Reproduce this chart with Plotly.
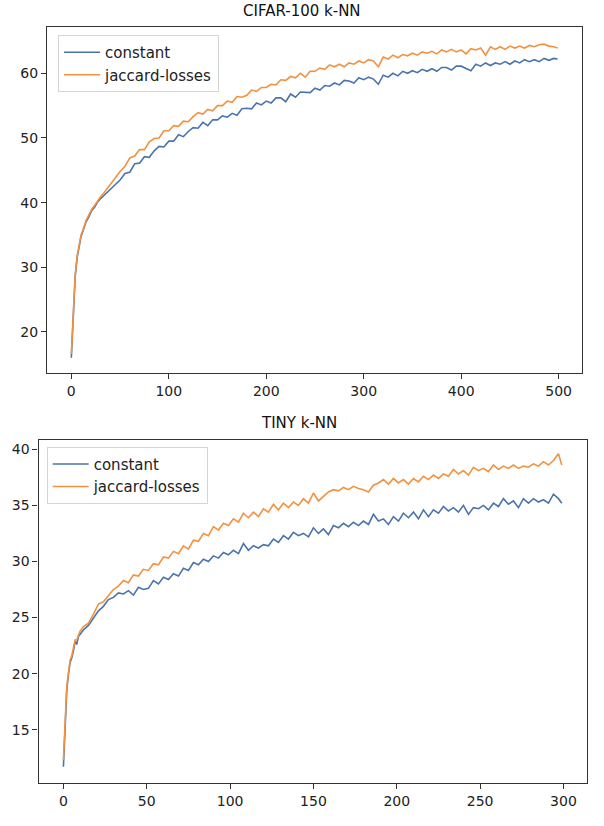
import plotly.graph_objects as go

# ---------------- data ----------------
EPOCHS_TOP = [0, 1, 2, 3, 4, 6, 8, 10, 12, 15, 18, 21, 24, 27, 30, 34, 38, 42, 46, 50] \
    + list(range(55, 500, 5)) + [499]

CONSTANT_TOP = [
    16.0, 19.8, 23.0, 26.1, 28.6, 31.5, 33.2, 34.8, 35.6, 37.0,
    37.8, 38.8, 39.3, 40.1, 40.6, 41.2, 41.8, 42.4, 42.9, 43.5,
    44.5, 44.7, 46.0, 46.1, 47.1, 47.0, 48.0, 48.7, 48.6, 49.5,
    49.5, 50.5, 50.2, 51.0, 51.6, 51.5, 52.4, 51.9, 52.8, 52.8,
    53.4, 53.2, 53.8, 53.5, 54.5, 54.6, 54.5, 55.4, 55.1, 55.7,
    55.4, 56.2, 56.2, 55.6, 56.8, 56.3, 57.1, 57.0, 57.0, 57.7,
    57.4, 58.1, 58.0, 58.5, 58.2, 58.9, 58.8, 58.5, 59.3, 59.0,
    59.4, 59.1, 58.3, 59.7, 59.4, 60.0, 59.6, 60.3, 60.0, 60.4,
    60.1, 60.6, 60.3, 60.7, 60.3, 60.9, 60.9, 60.5, 61.1, 61.1,
    60.8, 60.4, 61.4, 61.1, 61.6, 61.2, 61.6, 61.4, 61.8, 61.4,
    61.9, 61.6, 62.1, 61.8, 62.1, 61.8, 62.3, 62.0, 62.3,
    62.2,
]

JACCARD_TOP = [
    16.6, 20.1, 23.3, 26.4, 28.9, 31.8, 33.5, 35.0, 35.8, 37.2,
    38.1, 39.0, 39.6, 40.3, 40.9, 41.6, 42.4, 43.2, 44.0, 44.8,
    45.6, 46.9, 47.2, 48.2, 48.2, 49.4, 49.9, 50.0, 51.1, 51.1,
    51.9, 51.8, 52.6, 52.5, 53.3, 53.9, 53.7, 54.4, 54.2, 55.0,
    55.0, 55.7, 55.5, 56.4, 56.3, 56.6, 57.4, 57.2, 57.8, 57.8,
    58.3, 58.2, 59.0, 58.9, 59.5, 59.3, 60.0, 59.4, 60.3, 60.3,
    60.8, 60.6, 61.3, 61.0, 61.4, 61.0, 61.6, 61.4, 61.9, 61.6,
    62.1, 61.9, 61.0, 62.5, 62.2, 62.8, 62.4, 62.9, 62.7, 63.1,
    62.8, 63.3, 63.1, 63.4, 63.0, 63.6, 63.3, 63.7, 63.3, 63.6,
    63.0, 63.8, 63.6, 63.9, 62.8, 64.1, 63.7, 64.1, 63.7, 64.2,
    63.9, 64.2, 63.9, 64.3, 64.1, 64.4, 64.5, 64.2, 64.1,
    63.9,
]

EPOCHS_BOTTOM = list(range(0, 11)) + list(range(12, 298, 3)) + [299]

CONSTANT_BOTTOM = [
    11.7, 16.0, 18.5, 19.9, 21.0, 21.4, 22.0, 22.9, 22.6, 23.3, 23.5,
    23.9, 24.3, 24.9, 25.6, 26.0, 26.6, 26.8, 27.2, 27.1, 27.4,
    27.0, 27.7, 27.5, 27.6, 28.3, 28.0, 28.6, 28.4, 28.9, 28.7,
    29.4, 29.2, 29.9, 29.7, 30.2, 30.0, 30.5, 30.3, 30.8, 30.6,
    31.0, 30.7, 31.6, 31.0, 31.4, 31.2, 31.5, 31.4, 32.0, 31.7,
    32.3, 32.0, 32.6, 32.3, 32.5, 32.2, 33.0, 32.5, 32.9, 32.4,
    33.2, 33.0, 33.4, 33.1, 33.5, 33.2, 33.6, 33.3, 34.2, 33.6,
    33.8, 33.3, 34.0, 33.6, 34.3, 33.9, 34.4, 33.8, 34.6, 34.0,
    34.6, 34.3, 34.9, 34.5, 34.8, 34.4, 35.0, 34.2, 34.8, 34.7,
    35.0, 34.6, 35.2, 34.9, 35.6, 35.1, 35.4, 34.8, 35.6, 35.2,
    35.6, 35.3, 35.5, 35.2, 36.0, 35.6,
    35.2,
]

JACCARD_BOTTOM = [
    12.3, 16.4, 18.8, 20.1, 21.2, 21.6, 22.2, 23.0, 23.0, 23.5, 23.8,
    24.2, 24.5, 25.3, 26.2, 26.4, 27.0, 27.5, 27.8, 28.3, 28.1,
    28.8, 28.7, 29.3, 29.2, 29.8, 29.7, 30.4, 30.3, 30.9, 30.7,
    31.4, 31.1, 31.9, 31.8, 32.5, 32.3, 33.1, 32.8, 33.4, 33.2,
    33.8, 33.5, 34.3, 33.9, 34.4, 34.0, 34.7, 34.4, 35.1, 34.6,
    35.2, 34.8, 35.3, 35.0, 35.6, 35.2, 36.1, 35.4, 35.8, 36.2,
    36.4, 36.3, 36.6, 36.4, 36.7, 36.5, 36.4, 36.2, 36.8, 37.0,
    37.3, 36.9, 37.4, 37.0, 37.3, 36.9, 37.4, 37.1, 37.6, 37.3,
    37.7, 37.4, 37.8, 37.6, 38.2, 37.8, 38.1, 37.7, 38.4, 38.1,
    38.3, 38.0, 38.6, 38.2, 38.5, 38.3, 38.6, 38.3, 38.5, 38.4,
    38.7, 38.5, 38.9, 38.6, 39.0, 39.6,
    38.6,
]

TITLES = ["CIFAR-100 k-NN", "TINY k-NN"]
SERIES_NAMES = ["constant", "jaccard-losses"]
X_TICKS_TOP = [0, 100, 200, 300, 400, 500]
Y_TICKS_TOP = [20, 30, 40, 50, 60]
X_TICKS_BOTTOM = [0, 50, 100, 150, 200, 250, 300]
Y_TICKS_BOTTOM = [15, 20, 25, 30, 35, 40]

# ---------------- styling ----------------
W, H = 604, 826
BLUE = "#4a74ab"
ORANGE = "#f29240"
FONT = "DejaVu Sans"
TXT = "#222222"


def px(x):
    return x / W


def py(y):
    return 1 - y / H


fig = go.Figure()

fig.add_trace(go.Scatter(x=EPOCHS_TOP, y=CONSTANT_TOP, mode="lines", name=SERIES_NAMES[0],
                         line=dict(color=BLUE, width=1.6), xaxis="x", yaxis="y",
                         legend="legend", legendgroup="a"))
fig.add_trace(go.Scatter(x=EPOCHS_TOP, y=JACCARD_TOP, mode="lines", name=SERIES_NAMES[1],
                         line=dict(color=ORANGE, width=1.6), xaxis="x", yaxis="y",
                         legend="legend", legendgroup="b"))
fig.add_trace(go.Scatter(x=EPOCHS_BOTTOM, y=CONSTANT_BOTTOM, mode="lines", name=SERIES_NAMES[0],
                         line=dict(color=BLUE, width=1.6), xaxis="x2", yaxis="y2",
                         legend="legend2", legendgroup="c"))
fig.add_trace(go.Scatter(x=EPOCHS_BOTTOM, y=JACCARD_BOTTOM, mode="lines", name=SERIES_NAMES[1],
                         line=dict(color=ORANGE, width=1.6), xaxis="x2", yaxis="y2",
                         legend="legend2", legendgroup="d"))

axis_common = dict(showline=True, mirror=True, linecolor="#333333", linewidth=1.2,
                   ticks="outside", ticklen=5, tickwidth=1.2, tickcolor="#333333",
                   showgrid=False, zeroline=False,
                   tickfont=dict(family=FONT, size=14, color=TXT))

legend_common = dict(xanchor="left", yanchor="top", bgcolor="rgba(255,255,255,0.9)",
                     bordercolor="#d5d5d5", borderwidth=1,
                     font=dict(family=FONT, size=15, color=TXT),
                     tracegroupgap=0, itemwidth=36, traceorder="normal")

fig.update_layout(
    width=W, height=H,
    margin=dict(l=0, r=0, t=0, b=0),
    paper_bgcolor="white", plot_bgcolor="white",
    showlegend=True,
    xaxis=dict(domain=[px(47), px(582)], range=[-24.95, 523.95], tickvals=X_TICKS_TOP,
               anchor="y", **axis_common),
    yaxis=dict(domain=[py(372.7), py(26.7)], range=[13.7, 67.2], tickvals=Y_TICKS_TOP,
               anchor="x", **axis_common),
    xaxis2=dict(domain=[px(38.5), px(586.7)], range=[-14.95, 313.95], tickvals=X_TICKS_BOTTOM,
                anchor="y2", **axis_common),
    yaxis2=dict(domain=[py(783), py(440)], range=[10.25, 40.83], tickvals=Y_TICKS_BOTTOM,
                anchor="x2", **axis_common),
    legend=dict(x=px(58), y=py(35), **legend_common),
    legend2=dict(x=px(46.7), y=py(446.7), **legend_common),
    annotations=[
        dict(text=TITLES[0], x=px(301.5), y=py(10.7), xref="paper", yref="paper",
             xanchor="center", yanchor="middle", showarrow=False,
             font=dict(family=FONT, size=15, color="#111111")),
        dict(text=TITLES[1], x=px(298.5), y=py(422.7), xref="paper", yref="paper",
             xanchor="center", yanchor="middle", showarrow=False,
             font=dict(family=FONT, size=15, color="#111111")),
    ],
)

# remove the browser's default 8px body margin so the figure sits at the page origin
fig.write_html("out.html",
               config={"displayModeBar": False},
               post_script="document.body.style.margin='0px';document.body.style.padding='0px';")
